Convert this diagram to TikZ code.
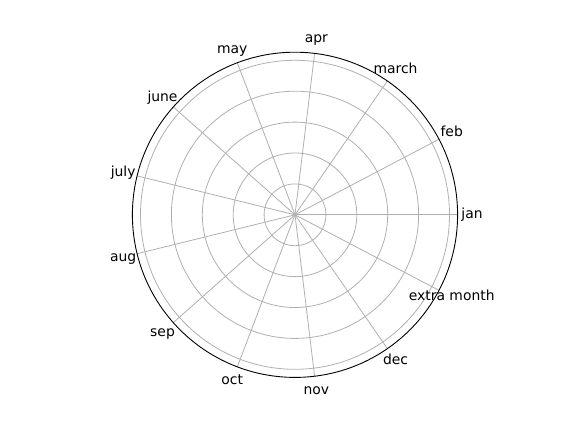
\documentclass[tikz,border=0pt]{standalone}
\usepackage{fontspec}
\setmainfont{DejaVu Sans}
\begin{document}
\begin{tikzpicture}[x=1pt,y=-1pt,
  grid/.style={draw=black!31, line width=0.8pt},
  spine/.style={draw=black, line width=0.9pt},
  lbl/.style={inner sep=0pt, font=\fontsize{13.9}{16}\selectfont, text height=0.76em, text depth=0.24em, anchor=center, yshift=-1.3pt}]
\useasboundingbox[fill=white] (0,0) rectangle (576,432);
\begin{scope}[shift={(295,214.8)}]
\coordinate (c) at (0,0);
\def\R{162.6}
\foreach \k in {1,...,5}{
  \draw[grid] (c) circle[radius=30.9*\k];
}
\foreach \name [count=\i from 0] in {jan,feb,march,apr,may,june,july,aug,sep,oct,nov,dec,extra month}{
  \coordinate (e\i) at ({-360/13*\i}:\R);
  \draw[grid] (c) -- (e\i);
  \node[lbl] (l\i) at ({-360/13*\i}:177) {\name};
}
\draw[spine] (c) circle[radius=\R];
\end{scope}
\end{tikzpicture}
\end{document}
